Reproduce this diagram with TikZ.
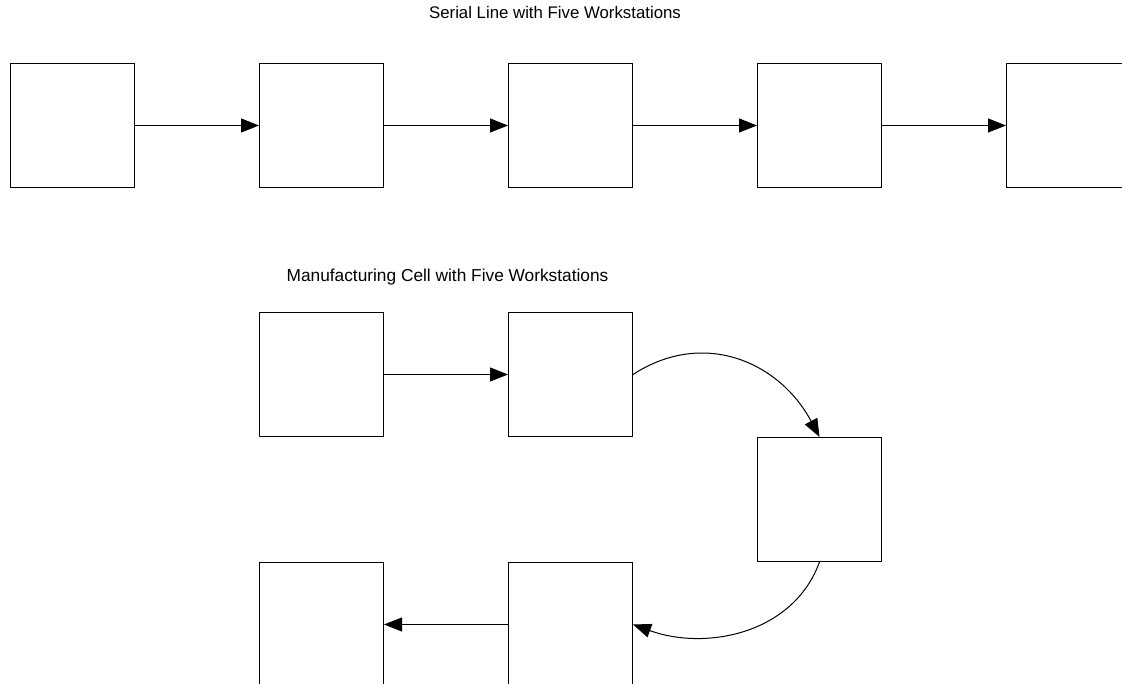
\documentclass[tikz,border=0pt]{standalone}
\usepackage{fontspec}
\setmainfont{Liberation Sans}
\usetikzlibrary{arrows.meta}

\begin{document}
\begin{tikzpicture}[x=1pt, y=1pt, every node/.style={font=\fontsize{16.8}{20}\selectfont}]
        \tikzstyle{ws} = [draw, line width=1pt, rectangle, minimum size=124pt, inner sep=0pt]
        \tikzstyle{flow} = [-{Triangle[length=18pt, width=14pt]}, line width=1pt]
        \useasboundingbox (0, 0) rectangle (1122, 684);
        \clip (0, 0) rectangle (1122, 684);
        % serial line
        \node[anchor=base] (titleA) at (555, 665) {Serial Line with Five Workstations};
        \node[ws] (S1) at (72.5, 558.5) {};
        \node[ws] (S2) at (321.5, 558.5) {};
        \node[ws] (S3) at (570.5, 558.5) {};
        \node[ws] (S4) at (819.5, 558.5) {};
        \node[ws] (S5) at (1068.5, 558.5) {};
        \draw[flow] (S1) -- (S2);
        \draw[flow] (S2) -- (S3);
        \draw[flow] (S3) -- (S4);
        \draw[flow] (S4) -- (S5);
        % manufacturing cell
        \node[anchor=base, font=\fontsize{17.3}{20}\selectfont] (titleB) at (447.5, 402) {Manufacturing Cell with Five Workstations};
        \node[ws] (C1) at (321.5, 309.5) {};
        \node[ws] (C2) at (570.5, 309.5) {};
        \node[ws] (C3) at (819.5, 184.5) {};
        \node[ws] (C4) at (570.5, 59.5) {};
        \node[ws] (C5) at (321.5, 59.5) {};
        \draw[flow] (C1) -- (C2);
        \draw[flow] (C2.east) to[out=33, in=118, looseness=1.1] (C3.north);
        \draw[flow] (C3.south) to[out=250, in=-20] (C4.east);
        \draw[flow] (C4) -- (C5);
      \end{tikzpicture}
\end{document}
